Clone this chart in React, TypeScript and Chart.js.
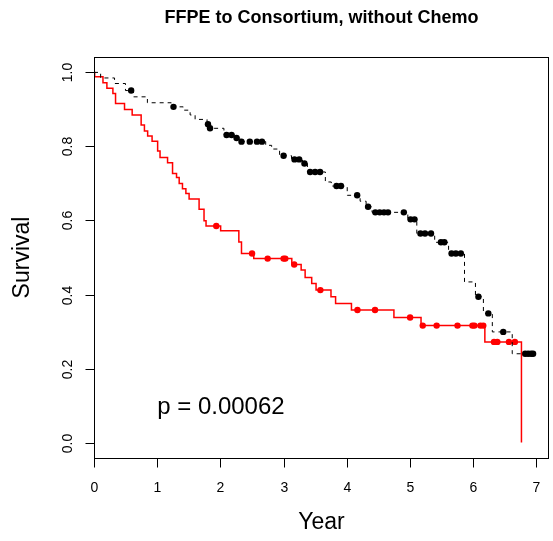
import React, { useEffect, useRef } from "react";
import { Chart, registerables } from "chart.js";

Chart.register(...registerables);

// ---- Data (years, survival) ----
const chartTitle = "FFPE to Consortium, without Chemo";
const xAxisTitle = "Year";
const yAxisTitle = "Survival";
const pValueText = "p = 0.00062";

const xTicks = [0, 1, 2, 3, 4, 5, 6, 7];
const yTicks = [0, 0.2, 0.4, 0.6, 0.8, 1.0];
const yTickLabels = ["0.0", "0.2", "0.4", "0.6", "0.8", "1.0"];

// Black group (dashed): event times and survival after each event
const blackEventTimes = [
  0.105, 0.325, 0.498, 0.625, 0.845, 1.222, 1.411, 1.521, 1.6, 1.789, 1.82,
  2.056, 2.23, 2.308, 2.717, 2.811, 2.937, 3.126, 3.299, 3.377, 3.661, 3.755,
  4.007, 4.211, 4.306, 4.4, 4.966, 5.108, 5.391, 5.611, 5.863, 6.036, 6.162,
  6.303, 6.618,
];
const blackSurvival = [
  0.985, 0.97, 0.951, 0.934, 0.918, 0.907, 0.898, 0.885, 0.873, 0.86, 0.849,
  0.831, 0.823, 0.813, 0.803, 0.793, 0.775, 0.765, 0.754, 0.731, 0.704, 0.693,
  0.668, 0.652, 0.637, 0.622, 0.603, 0.565, 0.541, 0.511, 0.434, 0.394, 0.349,
  0.299, 0.24,
];
const blackCensorTimes = [
  0.588, 1.258, 1.804, 1.836, 2.098, 2.177, 2.256, 2.334, 2.465, 2.579, 2.658,
  3.0, 3.173, 3.247, 3.33, 3.42, 3.499, 3.577, 3.838, 3.908, 4.164, 4.337,
  4.452, 4.521, 4.589, 4.652, 4.903, 5.009, 5.072, 5.166, 5.238, 5.333, 5.49,
  5.544, 5.658, 5.726, 5.805, 6.083, 6.24, 6.476, 6.822, 6.869, 6.916, 6.948,
];

// Red group (solid)
const redEventTimes = [
  0.011, 0.142, 0.204, 0.299, 0.341, 0.483, 0.604, 0.746, 0.798, 0.849, 0.919,
  1.007, 1.045, 1.164, 1.243, 1.306, 1.348, 1.4, 1.454, 1.505, 1.663, 1.741,
  1.773, 2.004, 2.292, 2.334, 2.528, 3.13, 3.278, 3.341, 3.445, 3.514, 3.75,
  3.823, 4.074, 4.746, 5.175, 6.185, 6.764,
];
const redSurvival = [
  0.988, 0.972, 0.957, 0.943, 0.916, 0.9, 0.885, 0.858, 0.842, 0.828, 0.814,
  0.788, 0.77, 0.756, 0.727, 0.716, 0.7, 0.686, 0.673, 0.658, 0.63, 0.599,
  0.585, 0.572, 0.542, 0.511, 0.497, 0.481, 0.466, 0.446, 0.43, 0.412, 0.394,
  0.376, 0.358, 0.338, 0.316, 0.272, 0.0,
];
const redCensorTimes = [
  1.935, 2.501, 2.748, 3.0, 3.027, 3.168, 3.582, 4.169, 4.447, 5.002, 5.202,
  5.422, 5.752, 5.988, 6.02, 6.115, 6.16, 6.33, 6.382, 6.566, 6.66,
];

// ---- helpers ----
function survivalAt(times: number[], surv: number[], t: number): number {
  let s = 1;
  for (let i = 0; i < times.length; i++) {
    if (times[i] <= t) s = surv[i];
  }
  return s;
}

function stepLine(times: number[], surv: number[], censor: number[]) {
  const pts = [{ x: 0, y: 1 }];
  for (let i = 0; i < times.length; i++) pts.push({ x: times[i], y: surv[i] });
  const lastT = Math.max(times[times.length - 1], censor[censor.length - 1]);
  if (lastT > times[times.length - 1]) {
    pts.push({ x: lastT, y: surv[surv.length - 1] });
  }
  return pts;
}

function censorPoints(times: number[], surv: number[], censor: number[]) {
  return censor.map((t) => ({ x: t, y: survivalAt(times, surv, t) }));
}

const FONT = "'Liberation Sans', Arial, Helvetica, sans-serif";

const rAxesPlugin = {
  id: "rAxes",
  afterDraw(chart: any) {
    const ctx = chart.ctx as CanvasRenderingContext2D;
    const area = chart.chartArea;
    const xs = chart.scales.x;
    const ys = chart.scales.y;
    ctx.save();
    ctx.strokeStyle = "#000";
    ctx.fillStyle = "#000";
    ctx.lineWidth = 1;
    // box
    ctx.strokeRect(
      Math.round(area.left) + 0.5,
      Math.round(area.top) + 0.5,
      Math.round(area.right - area.left) - 1,
      Math.round(area.bottom - area.top)
    );
    // x ticks
    ctx.font = `14px ${FONT}`;
    ctx.textAlign = "center";
    ctx.textBaseline = "middle";
    const bottom = Math.round(area.bottom) + 0.5;
    xTicks.forEach((v) => {
      const px = Math.round(xs.getPixelForValue(v)) + 0.5;
      ctx.beginPath();
      ctx.moveTo(px, bottom);
      ctx.lineTo(px, bottom + 9);
      ctx.stroke();
      ctx.fillText(String(v), px, bottom + 30);
    });
    // y ticks
    const left = Math.round(area.left) + 0.5;
    yTicks.forEach((v, i) => {
      const py = Math.round(ys.getPixelForValue(v)) + 0.5;
      ctx.beginPath();
      ctx.moveTo(left, py);
      ctx.lineTo(left - 9, py);
      ctx.stroke();
      ctx.save();
      ctx.translate(left - 26, py);
      ctx.rotate(-Math.PI / 2);
      ctx.textAlign = "center";
      ctx.textBaseline = "middle";
      ctx.fillText(yTickLabels[i], 0, 0);
      ctx.restore();
    });
    // axis titles
    const cx = (area.left + area.right) / 2;
    const cy = (area.top + area.bottom) / 2;
    ctx.font = `23px ${FONT}`;
    ctx.textAlign = "center";
    ctx.textBaseline = "middle";
    ctx.fillText(xAxisTitle, cx, 523);
    ctx.save();
    ctx.translate(23, cy);
    ctx.rotate(-Math.PI / 2);
    ctx.fillText(yAxisTitle, 0, 0);
    ctx.restore();
    // title
    ctx.font = `bold 18px ${FONT}`;
    ctx.fillText(chartTitle, cx, 18);
    // p-value
    ctx.font = `24px ${FONT}`;
    ctx.textAlign = "left";
    ctx.textBaseline = "alphabetic";
    ctx.fillText(pValueText, xs.getPixelForValue(1.0), 414);
    ctx.restore();
  },
};

export default function App() {
  const ref = useRef<HTMLCanvasElement>(null);
  useEffect(() => {
    document.body.style.margin = "0";
    const canvas = ref.current!;
    const chart = new Chart(canvas, {
      type: "scatter",
      data: {
        datasets: [
          {
            label: "black",
            data: stepLine(blackEventTimes, blackSurvival, blackCensorTimes),
            showLine: true,
            stepped: true,
            borderColor: "#000",
            borderWidth: 1,
            borderDash: [4, 4],
            pointRadius: 0,
            fill: false,
          },
          {
            label: "red",
            data: stepLine(redEventTimes, redSurvival, redCensorTimes),
            showLine: true,
            stepped: true,
            borderColor: "#ff0000",
            borderWidth: 1.5,
            pointRadius: 0,
            fill: false,
          },
          {
            label: "black censor",
            data: censorPoints(blackEventTimes, blackSurvival, blackCensorTimes),
            showLine: false,
            pointRadius: 3.2,
            pointBackgroundColor: "#000",
            pointBorderColor: "#000",
            pointBorderWidth: 0,
          },
          {
            label: "red censor",
            data: censorPoints(redEventTimes, redSurvival, redCensorTimes),
            showLine: false,
            pointRadius: 3.2,
            pointBackgroundColor: "#ff0000",
            pointBorderColor: "#ff0000",
            pointBorderWidth: 0,
          },
        ],
      },
      options: {
        responsive: false,
        devicePixelRatio: 1,
        animation: false,
        layout: { padding: { left: 94, top: 57, right: 1, bottom: 83 } },
        plugins: {
          legend: { display: false },
          tooltip: { enabled: false },
          title: { display: false },
        },
        scales: {
          x: { type: "linear", min: 0, max: 7.2, display: false },
          y: { type: "linear", min: -0.0416, max: 1.0416, display: false },
        },
      },
      plugins: [rAxesPlugin],
    });
    return () => chart.destroy();
  }, []);
  return (
    <div
      style={{
        position: "absolute",
        left: 0,
        top: 0,
        width: 553,
        height: 541,
        background: "#fff",
      }}
    >
      <canvas
        ref={ref}
        width={553}
        height={541}
        style={{ display: "block", width: 553, height: 541 }}
      />
    </div>
  );
}
